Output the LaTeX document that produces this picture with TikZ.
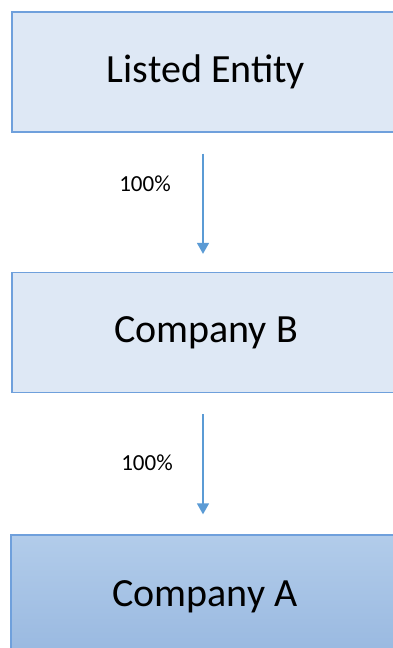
\documentclass[tikz,border=0pt]{standalone}
\usepackage{fontspec}
\setmainfont{Carlito}
\usetikzlibrary{arrows.meta}
\definecolor{boxline}{HTML}{6FA0DC}
\definecolor{boxfill}{HTML}{DEE8F5}
\definecolor{arrowc}{HTML}{5B9BD5}
\definecolor{gradtop}{HTML}{B2CCEA}
\definecolor{gradbot}{HTML}{98B8E0}
\tikzset{
  entity/.style={draw=boxline, line width=1.3pt, fill=boxfill, minimum width=388pt, minimum height=120pt, inner sep=0pt, font=\fontsize{40}{48}\selectfont},
  entitydark/.style={entity, fill=none, top color=gradtop, bottom color=gradbot, minimum height=124pt},
  own/.style={draw=arrowc, line width=1.4pt, -{Triangle[length=11pt,width=12pt]}},
  pct/.style={font=\fontsize{23}{27}\selectfont, inner sep=0pt}
}
\begin{document}
\begin{tikzpicture}[x=1pt,y=-1pt]
\useasboundingbox (0,0) rectangle (393,648);
\clip (0,0) rectangle (393,648);
\node[entity] (le) at (206,72) {\raisebox{-3pt}{Listed Entity}};
\node[entity] (cb) at (206,332.5) {\raisebox{-2pt}{Company B}};
\node[entitydark] (ca) at (205,597) {\raisebox{-2pt}{Company A}};
\draw[own, shorten <=21pt, shorten >=18pt] ([xshift=-3pt]le.south) -- ([xshift=-3pt]cb.north);
\draw[own, shorten <=21pt, shorten >=20pt] ([xshift=-3pt]cb.south) -- ([xshift=-2pt]ca.north);
\node[pct] (p1) at (145,184) {100\%};
\node[pct] (p2) at (147,463) {100\%};
\end{tikzpicture}
\end{document}
